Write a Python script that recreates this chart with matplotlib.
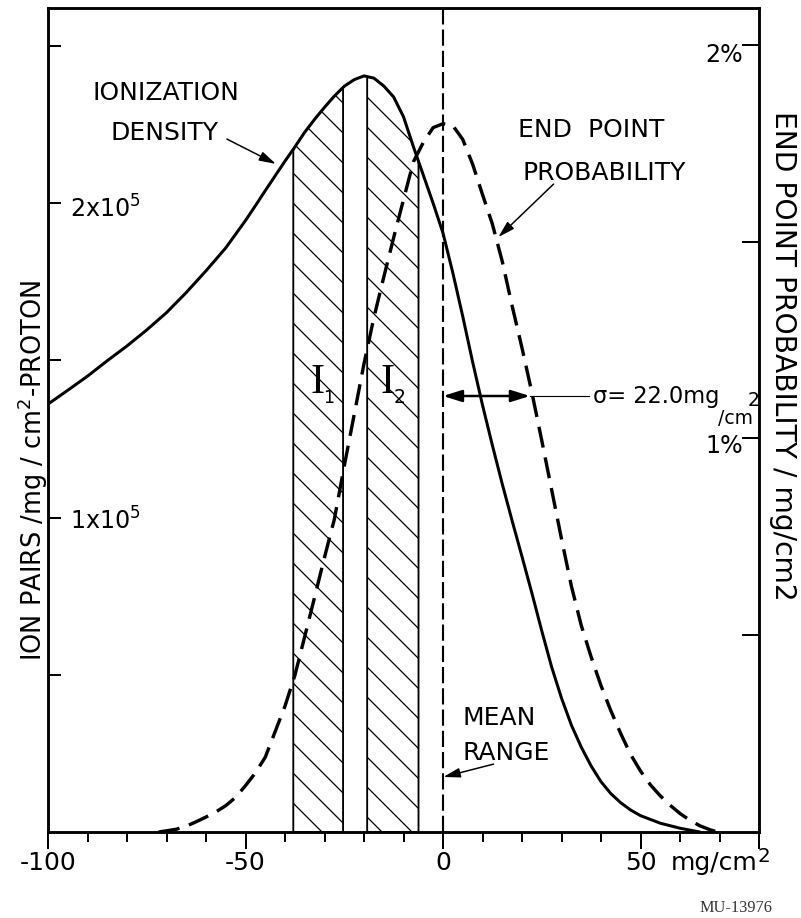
import numpy as np
import matplotlib
matplotlib.use("Agg")
import matplotlib.pyplot as plt

plt.rcParams["font.family"] = ["DejaVu Sans"]
plt.rcParams["hatch.linewidth"] = 1.0
plt.rcParams["lines.scale_dashes"] = False

# ---------------- data ----------------
# depth relative to mean range, mg/cm^2
depth_ion = [-100, -95, -90, -85, -80, -75, -70, -65, -60, -55, -50, -47.5,
             -45, -42.5, -40, -37.5, -35, -32.5, -30, -27.5, -25, -22.5, -20,
             -17.5, -15, -12.5, -10, -7.5, -5, -2.5, 0, 2.5, 5, 7.5, 10, 12.5,
             15, 17.5, 20, 22.5, 25, 27.5, 30, 32.5, 35, 37.5, 40, 42.5, 45,
             47.5, 50, 55, 60, 65]
# ionization density, units of 1e5 ion pairs / mg/cm^2 / proton
ion_density = [1.361, 1.405, 1.450, 1.499, 1.546, 1.597, 1.652, 1.716, 1.785,
               1.858, 1.945, 1.992, 2.040, 2.087, 2.134, 2.179, 2.226, 2.267,
               2.305, 2.341, 2.372, 2.393, 2.405, 2.398, 2.373, 2.338, 2.275,
               2.180, 2.090, 2.000, 1.905, 1.778, 1.640, 1.495, 1.358, 1.230,
               1.107, 0.990, 0.876, 0.760, 0.640, 0.525, 0.426, 0.340, 0.270,
               0.210, 0.160, 0.122, 0.093, 0.070, 0.052, 0.028, 0.012, 0.0]

depth_end = [-72, -70, -67.5, -65, -62.5, -60, -57.5, -55, -52.5, -50, -47.5,
             -45, -42.5, -40, -37.5, -35, -32.5, -30, -27.5, -25, -22.5, -20,
             -17.5, -15, -12.5, -10, -7.5, -5, -2.5, 0, 2.5, 5, 7.5, 10, 12.5,
             15, 17.5, 20, 22.5, 25, 27.5, 30, 32.5, 35, 37.5, 40, 42.5, 45,
             47.5, 50, 52.5, 55, 57.5, 60, 62.5, 65, 67.5, 69.5]
# end point probability, % per mg/cm^2
end_prob = [0.0, 0.003, 0.007, 0.015, 0.026, 0.038, 0.051, 0.067, 0.088,
            0.118, 0.150, 0.190, 0.255, 0.320, 0.398, 0.497, 0.597, 0.698,
            0.795, 0.930, 1.060, 1.190, 1.307, 1.410, 1.510, 1.607, 1.703,
            1.752, 1.790, 1.800, 1.795, 1.760, 1.697, 1.620, 1.545, 1.450,
            1.337, 1.230, 1.117, 0.995, 0.870, 0.745, 0.625, 0.525, 0.445,
            0.372, 0.308, 0.250, 0.197, 0.155, 0.120, 0.092, 0.068, 0.047,
            0.030, 0.016, 0.006, 0.0]

I1_range = (-37.9, -25.3)
I2_range = (-19.2, -6.2)
sigma = 22.0
sigma_level = 1.108  # % at which sigma is marked

x_major = [-100, -50, 0, 50, 80]
x_major_labels = ["-100", "-50", "0", "50", ""]
x_minor = [-90, -80, -70, -60, -40, -30, -20, -10, 10, 20, 30, 40, 60, 70]
left_ticks = [0.5, 1.0, 1.5, 2.0, 2.5]
left_labels = {1.0: "1x10$^5$", 2.0: "2x10$^5$"}
right_ticks = [0.5, 1.0, 1.5, 2.0]
right_labels = {1.0: "1%", 2.0: "2%"}

# ---------------- figure ----------------
W, H, DPI = 801, 919, 90
fig = plt.figure(figsize=(W / DPI, H / DPI), dpi=DPI)
L, R, B, T = 48, 759, 833, 9
ax = fig.add_axes([L / W, 1 - B / H, (R - L) / W, (B - T) / H])
ax.set_xlim(-100, 80)
ax.set_ylim(0, 2.621)
ax2 = ax.twinx()
ax2.set_ylim(0, 2.094)

for a in (ax, ax2):
    for s in a.spines.values():
        s.set_linewidth(2.0)

# ionization density curve
ax.plot(depth_ion, ion_density, color="black", lw=2.4,
        solid_capstyle="round", solid_joinstyle="round", zorder=4)

# hatched regions I1, I2 under the ionization curve
for lo, hi in (I1_range, I2_range):
    xs = np.concatenate(([lo], [d for d in depth_ion if lo < d < hi], [hi]))
    ys = np.interp(xs, depth_ion, ion_density)
    ax.fill_between(xs, 0, ys, facecolor="none", edgecolor="black",
                    hatch="\\", lw=1.5, zorder=2)

# end point probability curve (dashed)
ep, = ax2.plot(depth_end, end_prob, color="black", lw=2.7, zorder=4,
               dash_joinstyle="round")
ep.set_dashes([17, 8])

# mean range line
vl = ax.axvline(0, color="black", lw=1.7, zorder=3)
vl.set_dashes([13, 4])

# sigma arrow
ax2.annotate("", xy=(0, sigma_level), xytext=(sigma, sigma_level),
             arrowprops=dict(arrowstyle="<|-|>,head_length=0.7,head_width=0.22",
                             color="black", lw=2.0, mutation_scale=18,
                             shrinkA=0, shrinkB=0), zorder=5)
ax2.plot([sigma, 36.9], [sigma_level, sigma_level], color="black", lw=0.9)

# ---------------- ticks ----------------
ax.set_xticks(x_major)
ax.set_xticklabels([])
ax.set_xticks(x_minor, minor=True)
ax.tick_params(axis="x", which="major", direction="out", length=13.5, width=1.6)
ax.tick_params(axis="x", which="minor", direction="out", length=8, width=1.6)
ax.set_yticks(left_ticks)
ax.set_yticklabels([])
ax.tick_params(axis="y", which="major", direction="in", length=10.5, width=1.6)
ax2.set_yticks(right_ticks)
ax2.set_yticklabels([])
ax2.tick_params(axis="y", which="major", direction="in", length=13.5, width=1.6)

xt = ax.get_xaxis_transform()
for xv, lab in zip(x_major, x_major_labels):
    if lab:
        ax.text(xv, -0.0449, lab, transform=xt, ha="center", va="baseline", fontsize=20)
ax.text(57.7, -0.0449, "mg/cm", transform=xt, ha="left", va="baseline", fontsize=20)
ax.text(79.7, -0.0352, "2", transform=xt, ha="left", va="baseline", fontsize=16)

left_base = {1.0: 0.964, 2.0: 1.959}
for v, lab in left_labels.items():
    ax.text(-94.5, left_base[v], lab, ha="left", va="baseline", fontsize=19)
right_base = {1.0: 0.966, 2.0: 1.959}
for v, lab in right_labels.items():
    ax2.text(75.9, right_base[v], lab, ha="right", va="baseline", fontsize=19)

# ---------------- annotations ----------------
arrow_kw = dict(arrowstyle="-|>,head_length=0.7,head_width=0.2",
                color="black", lw=1.2, mutation_scale=16, shrinkA=0, shrinkB=0)
ax.text(-70.1, 2.331, "IONIZATION", ha="center", va="baseline", fontsize=20)
ax.text(-70.6, 2.204, "DENSITY", ha="center", va="baseline", fontsize=20)
ax.annotate("", xy=(-42.3, 2.125), xytext=(-54.7, 2.204), arrowprops=arrow_kw)

ax.text(19.1, 2.214, "END  POINT", ha="left", va="baseline", fontsize=20)
ax.text(20.1, 2.077, "PROBABILITY", ha="left", va="baseline", fontsize=20)
ax.annotate("", xy=(14.0, 1.892), xytext=(28.0, 2.061), arrowprops=arrow_kw)

ax.text(38.1, 1.368, "σ= 22.0mg", ha="left", va="baseline", fontsize=18)
ax.text(69.6, 1.301, "/cm", ha="left", va="baseline", fontsize=15)
ax.text(77.0, 1.358, "2", ha="left", va="baseline", fontsize=15)

ax.text(4.9, 0.3435, "MEAN", ha="left", va="baseline", fontsize=20)
ax.text(4.9, 0.232, "RANGE", ha="left", va="baseline", fontsize=20)
ax.annotate("", xy=(0.1, 0.175), xytext=(12.8, 0.216), arrowprops=arrow_kw)

ax.text(-31.8, 1.3995, "I", ha="center", va="baseline", fontsize=34,
        family="Liberation Serif")
ax.text(-30.3, 1.368, "1", ha="left", va="baseline", fontsize=14)
ax.text(-14.1, 1.3995, "I", ha="center", va="baseline", fontsize=34,
        family="Liberation Serif")
ax.text(-12.6, 1.368, "2", ha="left", va="baseline", fontsize=15)

# axis titles
fig.text(33 / W, 1 - 470 / H, "ION PAIRS /mg / cm$^2$-PROTON", rotation=90,
         ha="center", va="center", fontsize=20.5)
fig.text(783 / W, 1 - 356 / H, "END POINT PROBABILITY / mg/cm2", rotation=-90,
         ha="center", va="center", fontsize=22.5)

fig.text(772 / W, 1 - 912 / H, "MU-13976", ha="right", va="baseline",
         fontsize=13, family="Liberation Serif", color="#333333")

fig.savefig("out.png", dpi=DPI)
